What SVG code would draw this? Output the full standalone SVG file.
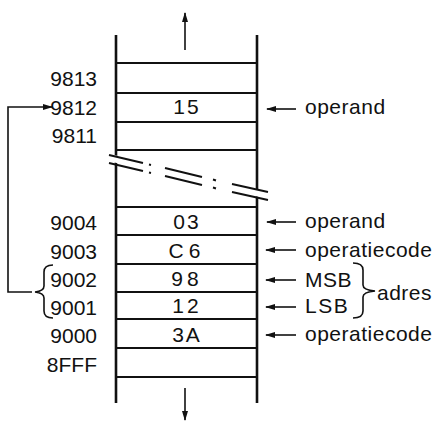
<svg xmlns="http://www.w3.org/2000/svg" width="439" height="422" viewBox="0 0 439 422">
<style>
text{font-family:"Liberation Sans",Arial,sans-serif;font-size:21px;fill:#111}
.addr{text-anchor:end}
.val{text-anchor:middle;letter-spacing:2px}
.lbl{letter-spacing:0.5px}
.side{stroke:#111;stroke-width:2.6;fill:none}
.row{stroke:#111;stroke-width:2;fill:none}
.con{stroke:#111;stroke-width:1.6;fill:none}
.brk{stroke:#111;stroke-width:2;fill:none}
</style>
<defs>
<marker id="ah" viewBox="0 0 10 6" refX="9" refY="3" markerWidth="10" markerHeight="6" markerUnits="userSpaceOnUse" orient="auto">
<path d="M0,0 L10,3 L0,6 Z" fill="#111"/>
</marker>
</defs>
<g id="memory">
<line class="side" x1="116" y1="35" x2="116" y2="403"/>
<line class="side" x1="257" y1="35" x2="257" y2="403"/>
<line class="row" x1="116" y1="63" x2="257" y2="63"/>
<line class="row" x1="116" y1="93" x2="257" y2="93"/>
<line class="row" x1="116" y1="122" x2="257" y2="122"/>
<line class="row" x1="116" y1="150" x2="257" y2="150"/>
<line class="row" x1="116" y1="207" x2="257" y2="207"/>
<line class="row" x1="116" y1="235" x2="257" y2="235"/>
<line class="row" x1="116" y1="264" x2="257" y2="264"/>
<line class="row" x1="116" y1="292" x2="257" y2="292"/>
<line class="row" x1="116" y1="319" x2="257" y2="319"/>
<line class="row" x1="116" y1="348" x2="257" y2="348"/>
<line class="row" x1="116" y1="377" x2="257" y2="377"/>
</g>
<g id="break">
<line x1="107" y1="157" x2="270" y2="196" stroke="#fff" stroke-width="7"/>
<path class="brk" d="M109,155 L143,163 M149,164.5 L151,165 M165,168 L202,177 M213,179.5 L216,180.5 M232,184 L268,192"/>
<path class="brk" d="M109,163 L143,171 M149,172.5 L151,173 M165,176 L202,185 M213,187.5 L216,188.5 M232,192 L268,200"/>
</g>
<g id="addresses">
<text class="addr" x="97" y="86">9813</text>
<text class="addr" x="97" y="115">9812</text>
<text class="addr" x="97" y="143">9811</text>
<text class="addr" x="97" y="230">9004</text>
<text class="addr" x="97" y="259">9003</text>
<text class="addr" x="97" y="287">9002</text>
<text class="addr" x="97" y="315">9001</text>
<text class="addr" x="97" y="343">9000</text>
<text class="addr" x="97" y="372">8FFF</text>
</g>
<g id="values">
<text class="val" x="187" y="114">15</text>
<text class="val" x="187" y="229">03</text>
<text class="val" x="187" y="258" style="letter-spacing:5px">C6</text>
<text class="val" x="187" y="286" style="letter-spacing:4px">98</text>
<text class="val" x="187" y="313" style="letter-spacing:3px">12</text>
<text class="val" x="187" y="342">3A</text>
</g>
<g id="labels">
<text class="lbl" x="305" y="114">operand</text>
<text class="lbl" x="305" y="228">operand</text>
<text class="lbl" x="305" y="257">operatiecode</text>
<text class="lbl" x="305" y="287">MSB</text>
<text class="lbl" x="305" y="313" style="letter-spacing:1.5px">LSB</text>
<text class="lbl" x="377" y="300">adres</text>
<text class="lbl" x="305" y="341">operatiecode</text>
</g>
<g id="connectors">
<line class="con" x1="185" y1="50" x2="185" y2="13" marker-end="url(#ah)"/>
<line class="con" x1="185" y1="388" x2="185" y2="420" marker-end="url(#ah)"/>
<line class="con" x1="296" y1="109" x2="267" y2="109" marker-end="url(#ah)"/>
<line class="con" x1="296" y1="222" x2="267" y2="222" marker-end="url(#ah)"/>
<line class="con" x1="296" y1="250" x2="266" y2="250" marker-end="url(#ah)"/>
<line class="con" x1="296" y1="280" x2="266" y2="280" marker-end="url(#ah)"/>
<line class="con" x1="296" y1="307" x2="266" y2="307" marker-end="url(#ah)"/>
<line class="con" x1="296" y1="335" x2="266" y2="335" marker-end="url(#ah)"/>
<path class="con" d="M32,292 L8,292 L8,107 L52,107" marker-end="url(#ah)"/>
<path class="con" d="M53,265 Q44,265 44,272 L44,286 Q44,291 35,292 Q44,293 44,298 L44,311 Q44,318 53,318"/>
<path class="con" d="M353,263 Q363,263 363,270 L363,285 Q363,290 375,291 Q363,292 363,297 L363,311 Q363,318 353,318"/>
</g>
</svg>
